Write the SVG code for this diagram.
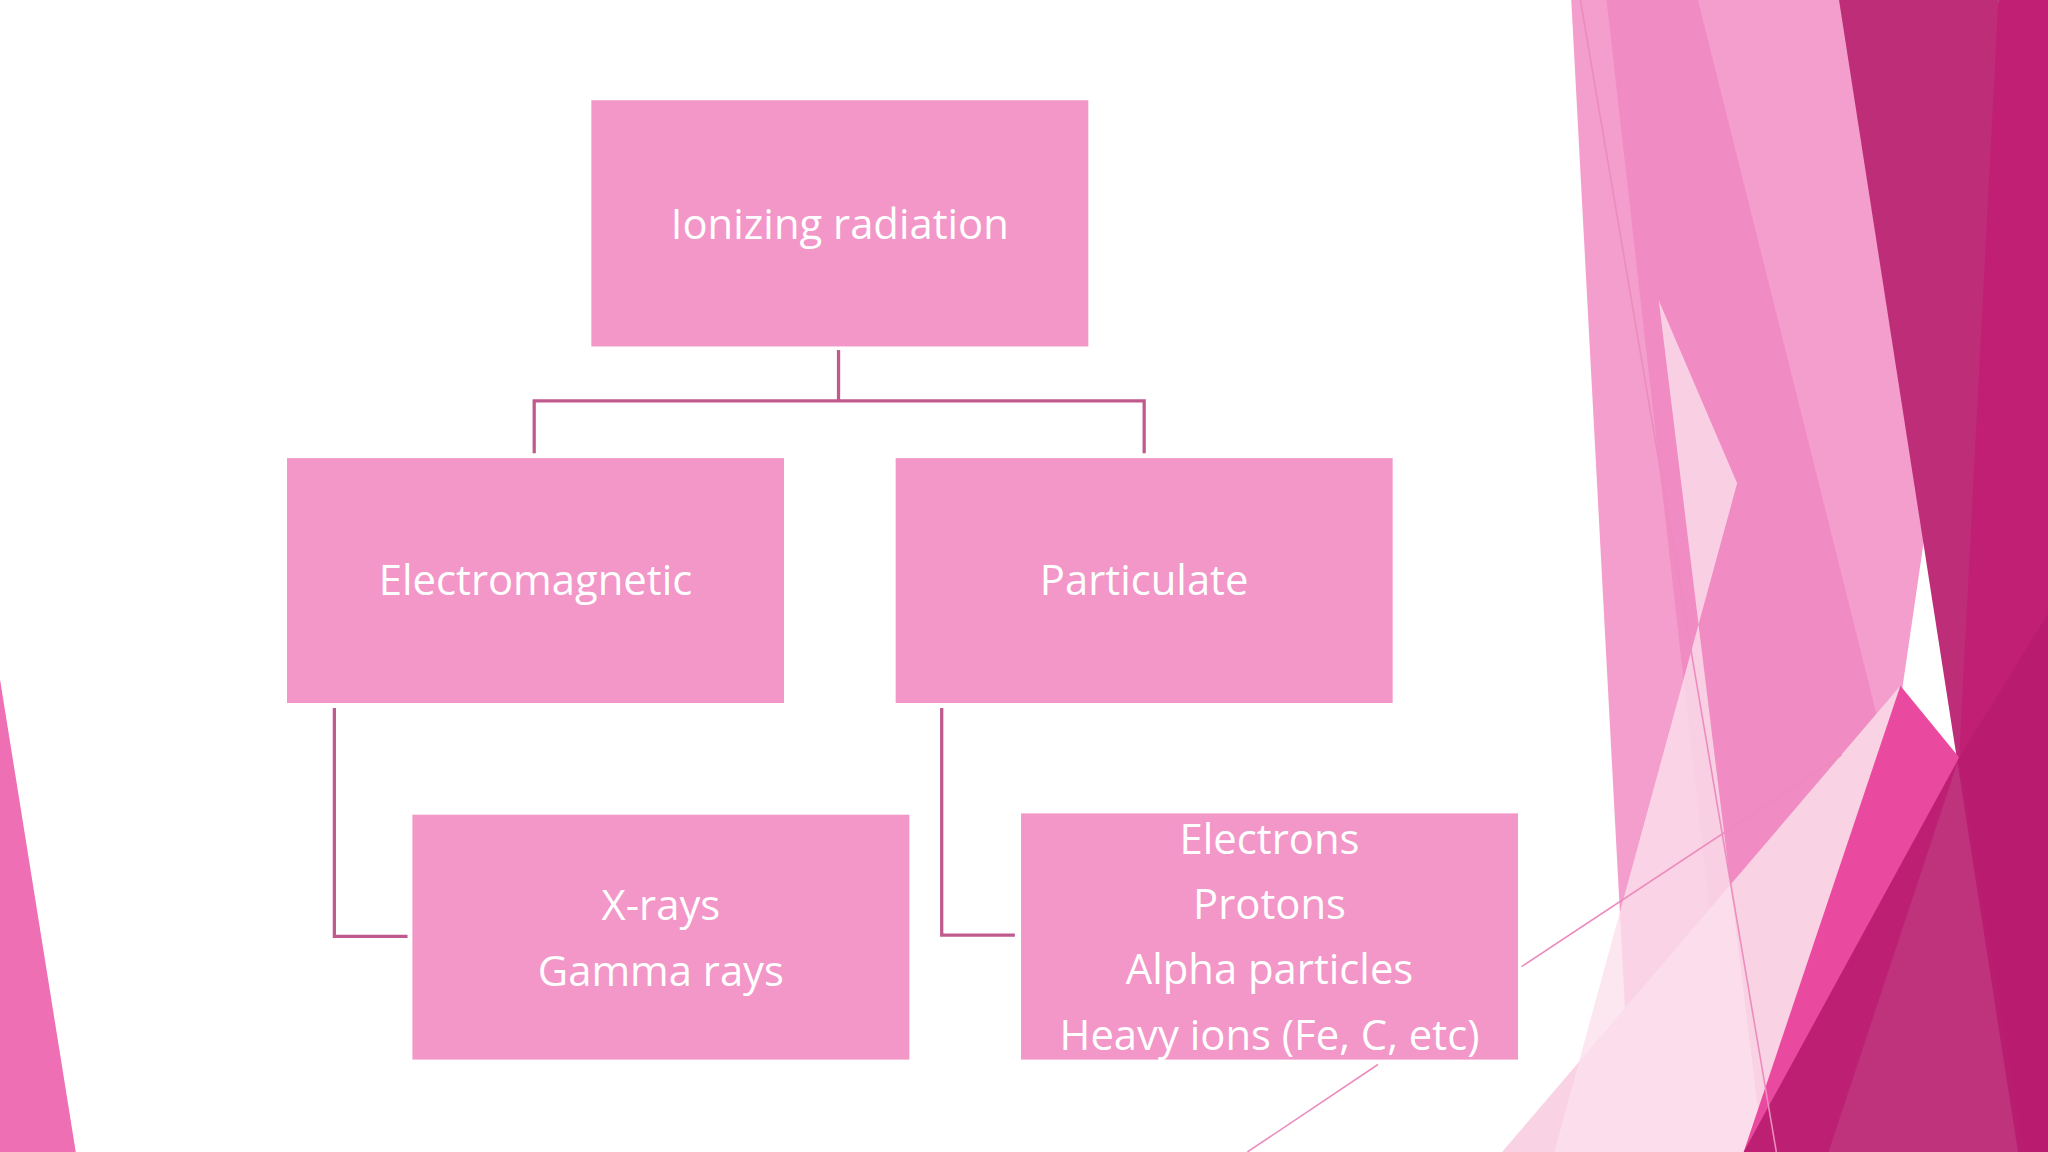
<svg xmlns="http://www.w3.org/2000/svg" width="2048" height="1152" viewBox="0 0 2048 1152">
<style>
.box{fill:#f297c8;stroke:#fff;stroke-width:1.5}
.t{font-family:"Open Sans","DejaVu Sans",sans-serif;font-size:32px;fill:#fff;text-anchor:middle;dominant-baseline:central}
.c{fill:none;stroke:#c05a8e;stroke-width:2.5}
</style>
<rect width="2048" height="1152" fill="#fff"/>
<g transform="scale(1.30612)">
<g id="decor">
<polygon points="0,520 58,882 0,882" fill="#ef6fb4"/>
<polygon points="1203,0 1420,0 1475,400 1440,640 1330,882 1250,882" fill="#f293c6" opacity="0.9"/>
<polygon points="1230,0 1300,0 1440,560 1400,882 1330,882" fill="#f07fbd" opacity="0.6"/>
<polygon points="1150,882 1455,525 1400,882" fill="#f9d2e4"/>
<polygon points="1270,230 1350,882 1190,882 1330,370" fill="#fbe0ec" opacity="0.8"/>
<polygon points="1408,0 1530,0 1568,250 1568,882 1545,882" fill="#bd2d78"/>
<polygon points="1530,0 1568,0 1568,882 1550,882 1500,580" fill="#c11f74"/>
<polygon points="1455,525 1500,580 1400,882 1335,882" fill="#e94a9f"/>
<polygon points="1500,580 1568,470 1568,882 1335,882" fill="#b81c6e" opacity="0.9"/>
<line x1="1210" y1="0" x2="1360" y2="882" stroke="#ec8cbd" stroke-width="1.2"/>
<line x1="955" y1="882" x2="1055" y2="815" stroke="#ec8cbd" stroke-width="1.2"/>
<line x1="1165" y1="740" x2="1410" y2="578" stroke="#ec8cbd" stroke-width="1.2"/>
</g>
<g id="connectors">
<polyline class="c" points="642,268 642,307"/>
<polyline class="c" points="409,347 409,307 876,307 876,347"/>
<polyline class="c" points="256,542 256,717 312,717"/>
<polyline class="c" points="721,542 721,716 777,716"/>
</g>
<g id="n1"><rect class="box" x="452" y="76" width="382" height="190"/><text class="t" x="643" y="170">Ionizing radiation</text></g>
<g id="n2"><rect class="box" x="219" y="350" width="382" height="189"/><text class="t" x="410" y="443">Electromagnetic</text></g>
<g id="n3"><rect class="box" x="685" y="350" width="382" height="189"/><text class="t" x="876" y="443">Particulate</text></g>
<g id="n4"><rect class="box" x="315" y="623" width="382" height="189"/><text class="t" x="506" y="692">X-rays</text><text class="t" x="506" y="742">Gamma rays</text></g>
<g id="n5"><rect class="box" x="781" y="622" width="382" height="190"/><text class="t" x="972" y="641">Electrons</text><text class="t" x="972" y="691">Protons</text><text class="t" x="972" y="741">Alpha particles</text><text class="t" x="972" y="791">Heavy ions (Fe, C, etc)</text></g>
</g>
</svg>
